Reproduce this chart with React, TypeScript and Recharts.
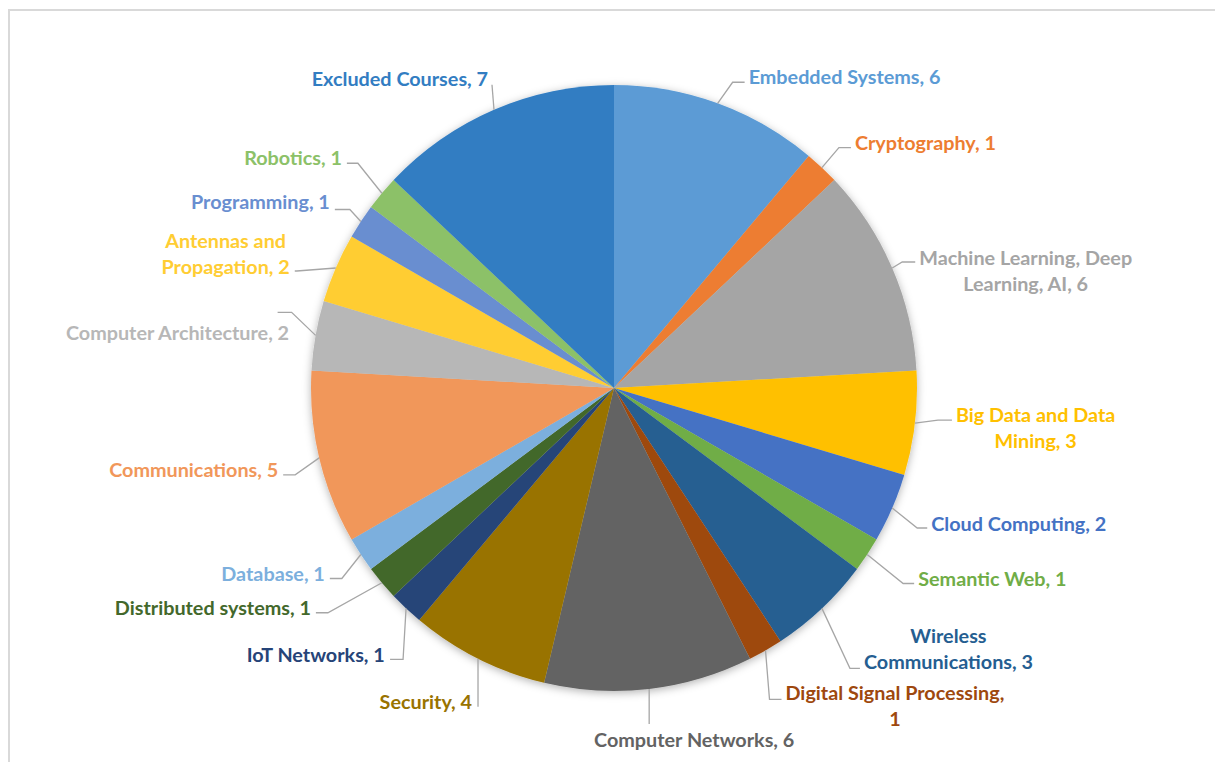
import { PieChart, Pie, Cell } from "recharts";

const CATEGORIES = [
  "Embedded Systems",
  "Cryptography",
  "Machine Learning, Deep Learning, AI",
  "Big Data and Data Mining",
  "Cloud Computing",
  "Semantic Web",
  "Wireless Communications",
  "Digital Signal Processing",
  "Computer Networks",
  "Security",
  "IoT Networks",
  "Distributed systems",
  "Database",
  "Communications",
  "Computer Architecture",
  "Antennas and Propagation",
  "Programming",
  "Robotics",
  "Excluded Courses",
];

const COUNTS = [6, 1, 6, 3, 2, 1, 3, 1, 6, 4, 1, 1, 1, 5, 2, 2, 1, 1, 7];

const COLORS = [
  "#5B9BD5", "#ED7D31", "#A5A5A5", "#FFC000", "#4472C4", "#70AD47",
  "#255E91", "#9E480E", "#636363", "#997300", "#264478", "#43682B",
  "#7CAFDD", "#F1975A", "#B7B7B7", "#FFCD33", "#698ED0", "#8CC168",
  "#327DC2",
];

// label layout: elbow offset from the slice edge, horizontal tail, text offset from tail end
const LABEL_ELBOW: [number, number][] = [
  [15, -21], [17, -20], [10, -6], [23, -3], [25, 20], [36, 29], [28, 60], [4, 49],
  [0, 35], [0, 48], [-3, 51], [-54, 30], [-19, 24], [-24, 17], [-24, -23], [-39, 3],
  [-11, -12], [-24, -30], [-2, -25],
];
const LABEL_TAIL = [12, 12, 13, 14, 10, 11, 10, 12, 0, 0, -13, -12, -12, -12, -14, -2, -15, -11, 0];
const LABEL_TEXT: [number, number][] = [
  [4, -6], [4, -6], [4, -5], [4, -6], [4, -5], [4, -6], [4, -7], [4, -7],
  [45, 15], [-6, -6], [-5, -5], [-5, -6], [-5, -6], [-5, -6], [12, 20], [-5, -5],
  [-5, -8], [-5, -6], [-4, -7],
];
// words on the first row (0 = single row) and which row the leader attaches to
const LABEL_WRAP = [0, 0, 3, 4, 0, 0, 1, 3, 0, 0, 0, 0, 0, 0, 0, 2, 0, 0, 0];
const LABEL_ATTACH = [0, 0, 0, 0, 0, 0, 1, 0, 0, 0, 0, 0, 0, 0, 0, 1, 0, 0, 0];

const FONT = "Lato, 'Open Sans', sans-serif";
const FONT_SIZE = 19.8;
const ROW_H = 26;
const RAD = Math.PI / 180;

const data = CATEGORIES.map((name, i) => ({ name, value: COUNTS[i] }));

let ctx: CanvasRenderingContext2D | null = null;
function textWidth(s: string) {
  if (!ctx) ctx = document.createElement("canvas").getContext("2d");
  if (!ctx) return s.length * 9.3;
  ctx.font = `bold ${FONT_SIZE}px Lato`;
  return ctx.measureText(s).width;
}

function renderLabel(props: any) {
  const { cx, cy, midAngle, outerRadius, index, name, value } = props;
  const px = cx + outerRadius * Math.cos(-midAngle * RAD);
  const py = cy + outerRadius * Math.sin(-midAngle * RAD);
  const ex = px + LABEL_ELBOW[index][0];
  const ey = py + LABEL_ELBOW[index][1];
  const hx = ex + LABEL_TAIL[index];
  const tx = hx + LABEL_TEXT[index][0];
  const ty = ey + LABEL_TEXT[index][1];

  const words = `${name}, ${value}`.split(" ");
  const wrap = LABEL_WRAP[index];
  const rows = wrap ? [words.slice(0, wrap).join(" "), words.slice(wrap).join(" ")] : [words.join(" ")];
  const attach = LABEL_ATTACH[index];
  const w = textWidth(rows[attach]);
  const right = midAngle > -90 && midAngle < 90 && index !== 8;
  const middle = index === 8;
  const blockX = middle ? tx : right ? tx + w / 2 : tx - w / 2;

  return (
    <g key={`lbl-${index}`}>
      <polyline
        points={`${px},${py} ${ex},${ey} ${hx},${ey}`}
        fill="none"
        stroke="#A6A6A6"
        strokeWidth={1.3}
      />
      {rows.map((r, k) => (
        <text
          key={k}
          x={blockX}
          y={ty + (k - attach) * ROW_H}
          textAnchor="middle"
          dominantBaseline="central"
          fill={COLORS[index]}
          fontFamily={FONT}
          fontWeight={700}
          fontSize={FONT_SIZE}
        >
          {r}
        </text>
      ))}
    </g>
  );
}

export default function App() {
  return (
    <div
      style={{
        position: "fixed",
        left: 0,
        top: 0,
        width: 1215,
        height: 762,
        overflow: "hidden",
        background: "#fff",
      }}
    >
      <style>{`.recharts-pie > g:not(.recharts-pie-labels) { filter: url(#pieShadow); }`}</style>
      <div
        style={{
          position: "absolute",
          left: 8,
          top: 9,
          width: 1400,
          height: 1000,
          borderTop: "2px solid #D9D9D9",
          borderLeft: "2px solid #D9D9D9",
        }}
      />
      <div style={{ position: "absolute", left: 0, top: 0 }}>
        <PieChart width={1215} height={762} margin={{ top: 0, right: 0, bottom: 0, left: 0 }}>
          <defs>
            <filter id="pieShadow" x="-20%" y="-20%" width="140%" height="140%">
              <feDropShadow dx="0" dy="2" stdDeviation="4" floodColor="#000" floodOpacity="0.3" />
            </filter>
          </defs>
          <Pie
            data={data}
            dataKey="value"
            nameKey="name"
            cx={614}
            cy={388}
            outerRadius={303}
            startAngle={90}
            endAngle={-270}
            stroke="none"
            label={renderLabel}
            labelLine={false}
            isAnimationActive={false}
          >
            {data.map((d, i) => (
              <Cell key={d.name} fill={COLORS[i]} />
            ))}
          </Pie>
        </PieChart>
      </div>
    </div>
  );
}
